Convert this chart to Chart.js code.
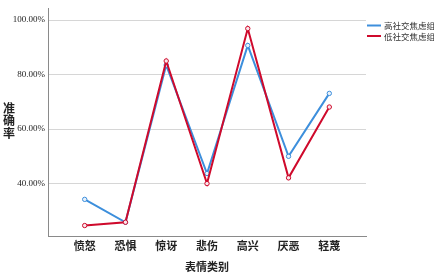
<!DOCTYPE html>
<html><head><meta charset="utf-8">
<script src="https://cdn.jsdelivr.net/npm/chart.js@4"></script>
<style>html,body{margin:0;padding:0;background:#fff}canvas{display:block}</style>
</head><body><canvas id="c" width="434" height="273"></canvas>
<script>
const categories = ['愤怒','恐惧','惊讶','悲伤','高兴','厌恶','轻蔑'];
const seriesNames = ['高社交焦虑组','低社交焦虑组'];
const highAnxiety = [34.2, 25.8, 83.5, 43.7, 90.7, 50.0, 73.1];
const lowAnxiety  = [24.6, 25.8, 85.0, 40.0, 96.9, 42.1, 68.1];
const yTicks = [40, 60, 80, 100];
const yTitle = '准确率';
const xTitle = '表情类别';

const colors = ['#3d8fdc', '#cf0a2c'];
const cjk = '"Noto Sans CJK SC", "Noto Sans", sans-serif';
const serif = '"Liberation Serif", "DejaVu Serif", serif';

const mk = (arr) => arr.map((v, i) => ({x: i, y: v}));

const extras = {
  id: 'extras',
  afterDraw(chart) {
    const ctx = chart.ctx;
    ctx.save();
    ctx.fillStyle = '#222';
    ctx.font = 'bold 12px ' + cjk;
    ctx.textAlign = 'center';
    ctx.textBaseline = 'middle';
    [...yTitle].forEach((ch, i) => ctx.fillText(ch, 9, 108 + i * 12.5));
    ctx.font = '8.5px ' + cjk;
    ctx.textAlign = 'left';
    chart.data.datasets.forEach((ds, i) => {
      const y = 25.5 + i * 10.5;
      ctx.strokeStyle = ds.borderColor;
      ctx.lineWidth = 2;
      ctx.beginPath(); ctx.moveTo(367, y); ctx.lineTo(381, y); ctx.stroke();
      ctx.fillStyle = '#333';
      ctx.fillText(ds.label, 384, y + 0.5);
    });
    ctx.restore();
  }
};

new Chart(document.getElementById('c'), {
  type: 'line',
  data: {
    datasets: [
      {label: seriesNames[0], order: 1, data: mk(highAnxiety), borderColor: colors[0], backgroundColor: '#e8f1fb', borderWidth: 2, pointRadius: 2.2, pointBorderWidth: 1, tension: 0},
      {label: seriesNames[1], order: 0, data: mk(lowAnxiety), borderColor: colors[1], backgroundColor: '#f9e6ea', borderWidth: 2, pointRadius: 2.2, pointBorderWidth: 1, tension: 0}
    ]
  },
  options: {
    responsive: false,
    animation: false,
    layout: {padding: {left: 0, right: 68, top: 3, bottom: 0}},
    plugins: {legend: {display: false}, tooltip: {enabled: false}},
    scales: {
      x: {
        type: 'linear', min: -0.9, max: 6.9,
        afterBuildTicks: (ax) => { ax.ticks = categories.map((c, i) => ({value: i})); },
        afterFit: (ax) => { ax.height = 36.3; },
        ticks: {callback: (v) => categories[v] ?? '', font: {family: cjk, size: 11, weight: 'bold'}, color: '#222', padding: 3, maxRotation: 0, autoSkip: false},
        grid: {display: false, drawTicks: false},
        border: {display: true, color: '#8a8a8a', width: 1},
        title: {display: true, text: xTitle, font: {family: cjk, size: 11, weight: 'bold'}, color: '#222', padding: {top: 2, bottom: 0}}
      },
      y: {
        min: 20.5, max: 104.3,
        afterBuildTicks: (ax) => { ax.ticks = yTicks.map(v => ({value: v})); },
        afterFit: (ax) => { ax.width = 48; },
        ticks: {callback: (v) => v.toFixed(2) + '%', font: {family: serif, size: 9}, color: '#222', padding: 3},
        grid: {color: '#d6d6d6', lineWidth: 1, drawTicks: false},
        border: {display: true, color: '#8a8a8a', width: 1}
      }
    }
  },
  plugins: [extras]
});
</script>
</body></html>
